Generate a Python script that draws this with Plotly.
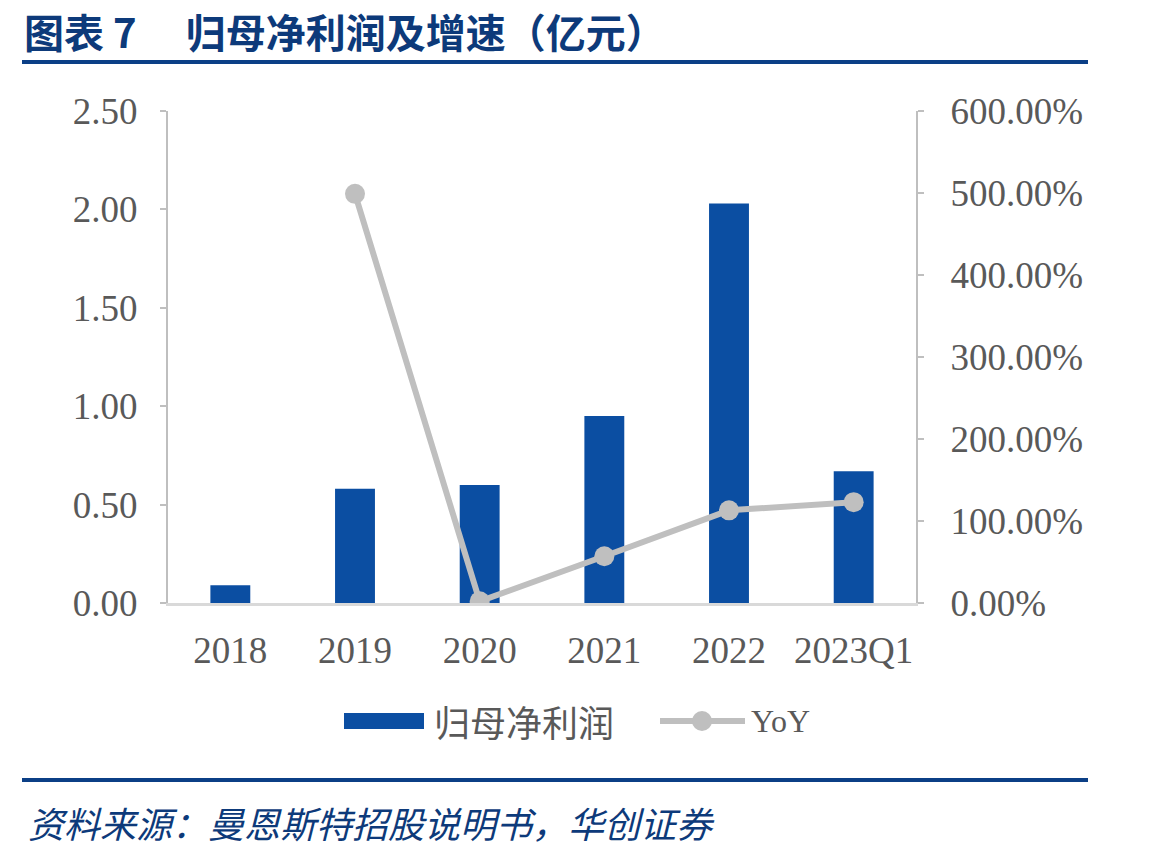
import plotly.graph_objects as go

categories = ["2018", "2019", "2020", "2021", "2022", "2023Q1"]
profit = [0.09, 0.58, 0.60, 0.95, 2.03, 0.67]
yoy = [None, 4.99, 0.02, 0.57, 1.13, 1.23]
left_ticks = [0, 0.5, 1.0, 1.5, 2.0, 2.5]
right_ticks = [0, 1, 2, 3, 4, 5, 6]

W, H = 1149, 857
L, R, T, B = 168, 916, 111, 603

def px(x):
    return (x - L) / (R - L)

def py(y):
    return (B - y) / (B - T)

serif = "Liberation Serif, Times New Roman, serif"
cjk = "Noto Sans CJK SC"
tick_color = "#595959"
navy = "#0B3F86"

fig = go.Figure()
fig.add_trace(go.Bar(
    x=categories, y=profit, name="归母净利润",
    marker=dict(color="#0B4EA2", line=dict(width=0)),
    yaxis="y",
))
fig.add_trace(go.Scatter(
    x=categories, y=yoy, name="YoY", mode="lines+markers",
    line=dict(color="#BFBFBF", width=6),
    marker=dict(color="#BFBFBF", size=20),
    yaxis="y2",
))

fig.update_layout(
    width=W, height=H,
    margin=dict(l=L, r=W - R, t=T, b=H - B, pad=0),
    paper_bgcolor="white", plot_bgcolor="white",
    bargap=0.68,
    showlegend=False,
    xaxis=dict(
        showline=True, linecolor="#D9D9D9", linewidth=3,
        tickfont=dict(family=serif, size=37, color=tick_color),
        ticks="", showgrid=False, ticklabelstandoff=13,
    ),
    yaxis=dict(
        range=[0, 2.5], tickvals=left_ticks, ticktext=[f"{v:.2f}" for v in left_ticks],
        showline=True, linecolor="#BFBFBF", linewidth=2,
        ticks="outside", ticklen=6, tickcolor="#BFBFBF", tickwidth=2,
        showgrid=False, zeroline=False, ticklabelstandoff=15,
        tickfont=dict(family=serif, size=37, color=tick_color),
    ),
    yaxis2=dict(
        range=[0, 6], tickvals=right_ticks, ticktext=[f"{v*100:.2f}%" for v in right_ticks],
        overlaying="y", side="right",
        showline=True, linecolor="#BFBFBF", linewidth=2,
        ticks="outside", ticklen=6, tickcolor="#BFBFBF", tickwidth=2,
        showgrid=False, zeroline=False, ticklabelstandoff=19,
        tickfont=dict(family=serif, size=37, color=tick_color),
    ),
)

# title and decorative lines
fig.add_annotation(
    x=px(22), y=py(31), xref="paper", yref="paper", xanchor="left", yanchor="middle",
    text="<b>图表 7 　归母净利润及增速（亿元）</b>", showarrow=False,
    font=dict(family=cjk, size=40, color="#0D3A7A"),
)
fig.add_shape(type="line", xref="paper", yref="paper",
              x0=px(22), x1=px(1088), y0=py(62), y1=py(62),
              line=dict(color=navy, width=4))
fig.add_shape(type="line", xref="paper", yref="paper",
              x0=px(22), x1=px(1088), y0=py(780), y1=py(780),
              line=dict(color=navy, width=4))
fig.add_annotation(
    x=px(26), y=py(822), xref="paper", yref="paper", xanchor="left", yanchor="middle",
    text="<i>资料来源：曼恩斯特招股说明书，华创证券</i>", showarrow=False,
    font=dict(family=cjk, size=36, color="#0D3A7A"),
)

# legend (drawn manually)
fig.add_shape(type="rect", xref="paper", yref="paper",
              x0=px(344), x1=px(424), y0=py(729), y1=py(713),
              fillcolor="#0B4EA2", line=dict(width=0))
fig.add_annotation(
    x=px(432), y=py(721), xref="paper", yref="paper", xanchor="left", yanchor="middle",
    text="归母净利润", showarrow=False,
    font=dict(family=cjk, size=36, color=tick_color),
)
fig.add_shape(type="line", xref="paper", yref="paper",
              x0=px(660), x1=px(745), y0=py(721), y1=py(721),
              line=dict(color="#BFBFBF", width=6))
fig.add_shape(type="circle", xref="paper", yref="paper",
              x0=px(692), x1=px(712), y0=py(731), y1=py(711),
              fillcolor="#BFBFBF", line=dict(width=0))
fig.add_annotation(
    x=px(749), y=py(721), xref="paper", yref="paper", xanchor="left", yanchor="middle",
    text="YoY", showarrow=False,
    font=dict(family=serif, size=32, color=tick_color),
)

fig.write_html("out.html")
